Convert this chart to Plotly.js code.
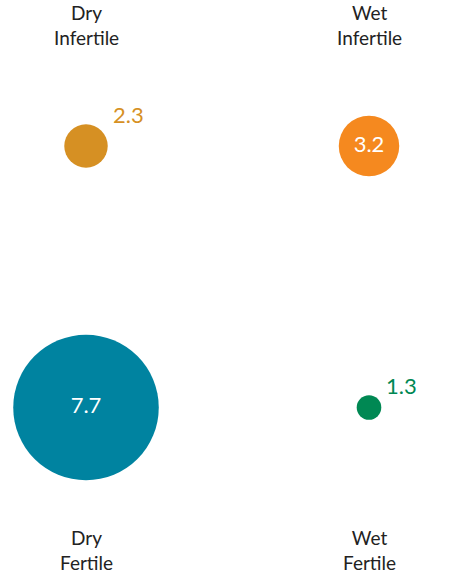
<!DOCTYPE html>
<html>
<head>
<meta charset="utf-8">
<script src="https://cdn.plot.ly/plotly-3.0.1.min.js"></script>
<style>html,body{margin:0;padding:0;background:#fff;}#chart{width:458px;height:578px;}</style>
</head>
<body>
<div id="chart"></div>
<script>
const moisture = ['Dry', 'Wet', 'Dry', 'Wet'];
const fertility = ['Infertile', 'Infertile', 'Fertile', 'Fertile'];
const values = [2.3, 3.2, 7.7, 1.3];
const colors = ['#D69023', '#F5891F', '#0083A0', '#008853'];
const labelInside = [false, true, true, false];

const FONT = 'Lato, "Open Sans", sans-serif';
const PX_PER_UNIT = 18.9;
const H = 578;

const trace = {
  type: 'scatter',
  mode: 'markers+text',
  x: moisture,
  y: fertility,
  text: values.map((v, i) => labelInside[i] ? v.toFixed(1) : ''),
  textposition: 'middle center',
  textfont: {family: FONT, size: 22, color: '#ffffff'},
  marker: {
    size: values,
    sizemode: 'diameter',
    sizeref: 1 / PX_PER_UNIT,
    color: colors,
    opacity: 1,
    line: {width: 0}
  },
  hoverinfo: 'skip',
  cliponaxis: false
};

const annotations = [];
// outside value labels
values.forEach((v, i) => {
  if (labelInside[i]) return;
  const r = v * PX_PER_UNIT / 2;
  annotations.push({
    x: moisture[i], xref: 'x', y: fertility[i], yref: 'y',
    xanchor: 'left', yanchor: 'bottom',
    xshift: r + 3, yshift: r - 5.5,
    text: v.toFixed(1), showarrow: false,
    font: {family: FONT, size: 22, color: colors[i]}
  });
});
// category labels
const topCenter = 24.5;
const bottomCenter = 550;
moisture.forEach((m, i) => {
  const top = fertility[i] === 'Infertile';
  annotations.push({
    x: m, xref: 'x', y: 1 - (top ? topCenter : bottomCenter) / H, yref: 'paper',
    xanchor: 'center', yanchor: 'middle',
    text: m + '<br>' + fertility[i], showarrow: false, align: 'center',
    font: {family: FONT, size: 19, color: '#222222'}
  });
});

const layout = {
  width: 458, height: 578,
  margin: {l: 0, r: 0, t: 0, b: 0},
  paper_bgcolor: '#ffffff', plot_bgcolor: '#ffffff',
  showlegend: false,
  xaxis: {type: 'category', categoryarray: ['Dry', 'Wet'], range: [-0.3039, 1.3145], visible: false, fixedrange: true},
  yaxis: {type: 'category', categoryarray: ['Fertile', 'Infertile'], range: [-0.652, 1.5583], visible: false, fixedrange: true},
  annotations: annotations
};

Plotly.newPlot('chart', [trace], layout, {displayModeBar: false, staticPlot: true});
</script>
</body>
</html>
